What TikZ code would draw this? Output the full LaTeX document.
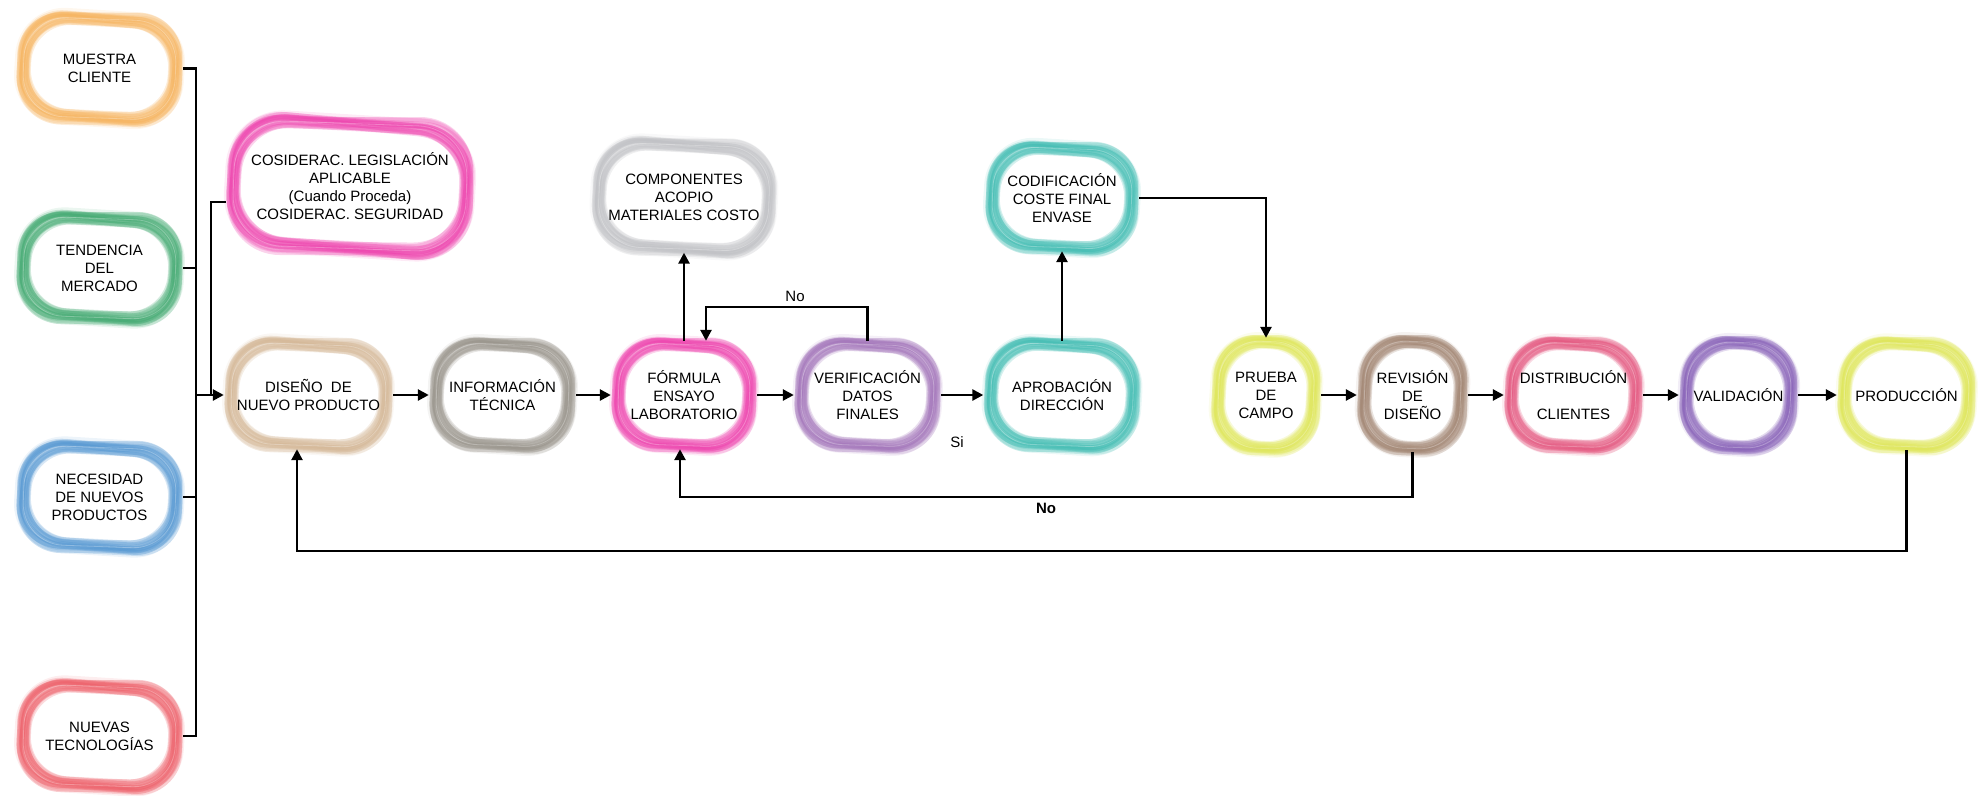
\documentclass[tikz,border=0pt]{standalone}
\usepackage{fontspec}
\setmainfont{Liberation Sans}
\usetikzlibrary{arrows.meta}
\definecolor{corange}{RGB}{245,176,88}
\definecolor{cgreen}{RGB}{60,166,108}
\definecolor{cblue}{RGB}{80,148,208}
\definecolor{cred}{RGB}{236,90,100}
\definecolor{cmagenta}{RGB}{236,60,170}
\definecolor{ctan}{RGB}{210,180,146}
\definecolor{cgraybrown}{RGB}{148,143,134}
\definecolor{clightgray}{RGB}{188,189,193}
\definecolor{cpurple}{RGB}{158,110,182}
\definecolor{cteal}{RGB}{60,186,176}
\definecolor{cyellow}{RGB}{220,228,80}
\definecolor{cbrown}{RGB}{156,126,106}
\definecolor{cpink}{RGB}{226,80,122}
\definecolor{cviolet}{RGB}{130,90,180}
\tikzset{
  blobtext/.style={align=center, font=\fontsize{15}{18}\selectfont, inner sep=0pt, text=black},
  conn/.style={line width=2.6pt, draw=black},
  arr/.style={conn, -{Triangle[length=11pt,width=11pt]}},
  lbl/.style={font=\fontsize{15}{18}\selectfont, inner sep=0pt, text=black}
}
\newcommand\blob[7]{%
  \pgfmathsetmacro\bhw{#4/2-7.5}%
  \pgfmathsetmacro\bhh{#5/2-7.5}%
  \pgfmathsetmacro\brc{min(#4,#5)*0.34}%
  \draw[#6, opacity=0.10, line width=16pt, rounded corners=\brc pt, rotate around={-3.5:(#2,#3)}] (#2-\bhw+3,#3-\bhh+3) rectangle (#2+\bhw-3,#3+\bhh-3);
  \foreach \rt/\dx/\dy/\ds in {0/0/0/0, -1/1/-1/-1, -2/-1/1/-4, -3/1/1/0, -4/0/-1/-3, -5/-1/0/-1, -6/1/0/-2, -7/0/0/-5, -1.5/0/2/-6, -3.5/-2/0/-2, -5.5/0/1/-7, -2.5/2/-2/-5, -4.5/0/0/-8, -6.5/-1/1/-4, -0.5/0/-1/-7, -3/0/0/-9}{
    \draw[#6, opacity=0.22, line width=5pt, rounded corners=\brc pt, rotate around={\rt:(#2,#3)}] (#2-\bhw+\dx-\ds,#3-\bhh+\dy-\ds) rectangle (#2+\bhw+\dx+\ds,#3+\bhh+\dy+\ds);
  }
  \draw[white, opacity=0.25, line width=0.8pt, rounded corners=\brc pt, rotate around={-2:(#2,#3)}] (#2-\bhw+4,#3-\bhh+4) rectangle (#2+\bhw-4,#3+\bhh-4);
  \node[blobtext, minimum width=#4pt-8pt, minimum height=#5pt-16pt] (#1) at (#2,#3) {#7};
}
\begin{document}
\begin{tikzpicture}[x=1pt,y=-1pt]
\useasboundingbox (0,0) rectangle (1988,795);
% left column
\blob{muestra}{99.5}{68.5}{175}{122}{corange}{MUESTRA\\CLIENTE}
\blob{tendencia}{99.5}{268}{175}{122}{cgreen}{TENDENCIA\\DEL\\MERCADO}
\blob{necesidad}{99.5}{497}{175}{122}{cblue}{NECESIDAD\\DE NUEVOS\\PRODUCTOS}
\blob{nuevas}{99.5}{736}{175}{122}{cred}{NUEVAS\\TECNOLOGÍAS}
\blob{cosiderac}{350}{186}{256}{148}{cmagenta}{COSIDERAC. LEGISLACIÓN\\APLICABLE\\(Cuando Proceda)\\COSIDERAC. SEGURIDAD}
% top row
\blob{comp}{684}{197}{193}{127}{clightgray}{COMPONENTES\\ACOPIO\\MATERIALES COSTO}
\blob{codif}{1062}{198}{162}{122}{cteal}{CODIFICACIÓN\\COSTE FINAL\\ENVASE}
% main row
\blob{diseno}{308.5}{395}{177}{124}{ctan}{DISEÑO\ \ DE\\NUEVO PRODUCTO}
\blob{info}{502.5}{395}{155}{124}{cgraybrown}{INFORMACIÓN\\TÉCNICA}
\blob{formula}{684}{395}{154}{124}{cmagenta}{FÓRMULA\\ENSAYO\\LABORATORIO}
\blob{verif}{867.5}{395}{155}{124}{cpurple}{VERIFICACIÓN\\DATOS\\FINALES}
\blob{aprob}{1062}{395}{165}{124}{cteal}{APROBACIÓN\\DIRECCIÓN}
\blob{prueba}{1266}{395}{118}{130}{cyellow}{PRUEBA\\DE\\CAMPO}
\blob{revision}{1412.5}{395}{119}{130}{cbrown}{REVISIÓN\\DE\\DISEÑO}
\blob{distrib}{1573.5}{395}{147}{126}{cpink}{DISTRIBUCIÓN\\[18pt]CLIENTES}
\blob{valid}{1738.5}{395}{127}{128}{cviolet}{VALIDACIÓN}
\blob{prod}{1906.5}{395}{147}{126}{cyellow}{PRODUCCIÓN}
% connectors, left side
\coordinate (bus) at (196,395);
\coordinate (cj) at (211,202);
\draw[conn] (muestra.east) -| (bus);
\draw[conn] (nuevas.east) -| (bus);
\draw[conn] (tendencia.east) -- (tendencia.east -| bus);
\draw[conn] (necesidad.east) -- (necesidad.east -| bus);
\draw[conn] (cosiderac.west |- cj) -- (cj) -- (cj |- bus);
\draw[arr] (bus) -- (diseno.west);
% main row arrows
\draw[arr] (diseno) -- (info);
\draw[arr] (info) -- (formula);
\draw[arr] (formula) -- (verif);
\draw[arr] (verif) -- (aprob);
\draw[arr] (prueba) -- (revision);
\draw[arr] (revision) -- (distrib);
\draw[arr] (distrib) -- (valid);
\draw[arr] (valid) -- (prod);
% vertical
\draw[arr] (formula) -- (comp);
\draw[arr] (aprob) -- (codif);
% loops
\coordinate (lt) at (706,307);
\draw[arr] (verif.north) |- (lt) -- (lt |- formula.north);
\draw[arr] (codif.east) -| (prueba.north);
\coordinate (lr) at (680,497);
\draw[arr] (revision.south) |- (lr) -- (lr |- formula.south);
\coordinate (lb) at (297,551);
\draw[arr] (prod.south) |- (lb) -- (lb |- diseno.south);
% labels
\node[lbl] (no1) at (795,296) {No};
\node[lbl] (si) at (957,442) {Si};
\node[lbl, font=\fontsize{15}{18}\selectfont\bfseries] (no2) at (1046,508) {No};
\end{tikzpicture}
\end{document}
